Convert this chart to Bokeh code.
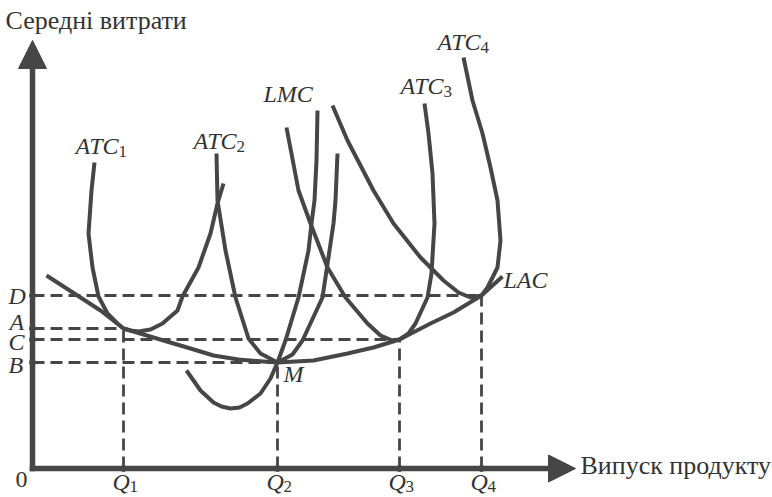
from bokeh.plotting import figure
from bokeh.models import Range1d, ColumnDataSource, Arrow, NormalHead
from bokeh.core.properties import value
from bokeh.embed import file_html
from bokeh.resources import INLINE

# ---------------- data (quantity, average cost) ----------------
Q_NAMES = ["1", "2", "3", "4"]
Q_VALUES = [91, 245, 367, 449]
LEVEL_NAMES = ["A", "B", "C", "D"]          # A<->Q1, B<->Q2, C<->Q3, D<->Q4
LEVEL_VALUES = [140, 106, 129, 173]

LAC_Q = [14, 48, 68, 91, 131, 158, 181, 206, 231, 245, 281, 315, 341, 367, 398, 421, 449, 470]
LAC_C = [193, 171, 158, 140, 128, 120, 113, 109, 107, 106, 108, 115, 121, 129, 145, 156, 173, 192]

ATC1_Q = [62, 59, 56, 60, 66, 75, 85, 91, 98, 106, 118, 130, 145, 150, 166, 178, 185, 191]
ATC1_C = [306, 278, 235, 201, 172, 155, 145, 140, 138, 137, 139, 145, 158, 172, 201, 235, 265, 285]

ATC2_Q = [184, 185, 193, 203, 216, 228, 245, 260, 270, 290, 297, 301, 303, 305]
ATC2_C = [315, 268, 218, 171, 130, 115, 106, 114, 128, 171, 218, 245, 268, 315]

LMC_Q = [154, 168, 181, 189, 198, 207, 215, 228, 238, 245, 253, 266, 276, 279, 282, 284, 285]
LMC_C = [98, 78, 66, 62, 60, 61, 65, 75, 90, 106, 128, 171, 218, 245, 268, 308, 358]

ATC3_Q = [254, 266, 278, 295, 313, 335, 348, 360, 367, 376, 383, 395, 399, 402, 400, 396, 392]
ATC3_C = [341, 278, 245, 201, 171, 145, 133, 128, 129, 135, 145, 171, 195, 245, 295, 335, 365]

ATC4_Q = [300, 315, 341, 361, 388, 411, 426, 438, 449, 455, 465, 468, 465, 458, 450, 440, 431]
ATC4_C = [363, 328, 278, 245, 211, 188, 176, 171, 173, 181, 201, 228, 268, 301, 335, 368, 411]

CURVE_NAMES = ["ATC", "ATC", "ATC", "ATC", "LMC", "LAC", "M"]
Y_TITLE = "Середні витрати"
X_TITLE = "Випуск продукту"

# ---------------- figure ----------------
INK = "#464646"
TXT = "#333333"
SERIF = value("Liberation Serif")

p = figure(width=772, height=497, x_range=Range1d(-32, 740), y_range=Range1d(-29, 468),
           output_backend="svg", toolbar_location=None, x_axis_type=None, y_axis_type=None,
           min_border=0)
p.grid.visible = False
p.outline_line_color = None

# dashed guides
p.segment(x0=[0] * 4, y0=LEVEL_VALUES, x1=Q_VALUES, y1=LEVEL_VALUES,
          line_color=INK, line_width=2.8, line_dash="12 6")
p.segment(x0=Q_VALUES, y0=[0] * 4, x1=Q_VALUES, y1=LEVEL_VALUES,
          line_color=INK, line_width=2.8, line_dash="12 6")

# curves
for qs, cs in [(LAC_Q, LAC_C), (ATC1_Q, ATC1_C), (ATC2_Q, ATC2_C), (LMC_Q, LMC_C),
               (ATC3_Q, ATC3_C), (ATC4_Q, ATC4_C)]:
    p.line(qs, cs, line_color=INK, line_width=4, line_join="round", line_cap="butt")

# axes with arrows
X_TIP, Y_TIP = 543, 428
p.add_layout(Arrow(x_start=0, y_start=-2.75, x_end=0, y_end=Y_TIP - 18, end=None,
                   line_color=INK, line_width=5.5))
p.add_layout(Arrow(x_start=-2.75, y_start=0, x_end=X_TIP - 18, y_end=0, end=None,
                   line_color=INK, line_width=5.5))
p.add_layout(Arrow(x_start=0, y_start=Y_TIP - 30, x_end=0, y_end=Y_TIP, line_alpha=0,
                   end=NormalHead(size=28, fill_color=INK, line_color=INK, line_width=1)))
p.add_layout(Arrow(x_start=X_TIP - 30, y_start=0, x_end=X_TIP, y_end=0, line_alpha=0,
                   end=NormalHead(size=27, fill_color=INK, line_color=INK, line_width=1)))

# dots on axes
p.scatter([0] * 4, LEVEL_VALUES, size=6, color=INK)
p.scatter(Q_VALUES, [0] * 4, size=6, color=INK)

# curve labels (positions = middle of capitals)
lab = ColumnDataSource(dict(
    text=CURVE_NAMES + LEVEL_NAMES,
    x=[43, 161, 368, 405, 231, 471, 251, -23, -24, -24, -24],
    y=[323, 328, 383, 427, 375, 189, 95, 147, 104, 127, 173],
))
p.text(x="x", y="y", text="text", source=lab, text_font=SERIF, text_font_style="italic",
       text_font_size="24px", text_color=TXT, text_align="left", text_baseline="middle")

sub = ColumnDataSource(dict(text=Q_NAMES, x=[43, 161, 368, 405], y=[323, 328, 383, 427]))
p.text(x="x", y="y", text="text", source=sub, text_font=SERIF, text_font_size="17px",
       text_color=TXT, text_align="left", text_baseline="middle", x_offset=43, y_offset=6)

# Q labels
qlab = ColumnDataSource(dict(text=["Q"] * 4, x=[q - 11 for q in Q_VALUES], y=[-13] * 4))
p.text(x="x", y="y", text="text", source=qlab, text_font=SERIF, text_font_style="italic",
       text_font_size="24px", text_color=TXT, text_align="left", text_baseline="middle")
qsub = ColumnDataSource(dict(text=Q_NAMES, x=[q - 11 for q in Q_VALUES], y=[-13] * 4))
p.text(x="x", y="y", text="text", source=qsub, text_font=SERIF, text_font_size="17px",
       text_color=TXT, text_align="left", text_baseline="middle", x_offset=17, y_offset=5)

# origin and axis titles
p.text(x=[-17], y=[-11], text=["0"], text_font=SERIF, text_font_size="24px",
       text_color=TXT, text_align="left", text_baseline="middle")
p.text(x=[-27], y=[448], text=[Y_TITLE], text_font=SERIF, text_font_size="26px",
       text_color=TXT, text_align="left", text_baseline="middle")
p.text(x=[548], y=[3], text=[X_TITLE], text_font=SERIF, text_font_size="26px",
       text_color=TXT, text_align="left", text_baseline="middle")

open("out.html", "w").write(file_html(p, INLINE))
